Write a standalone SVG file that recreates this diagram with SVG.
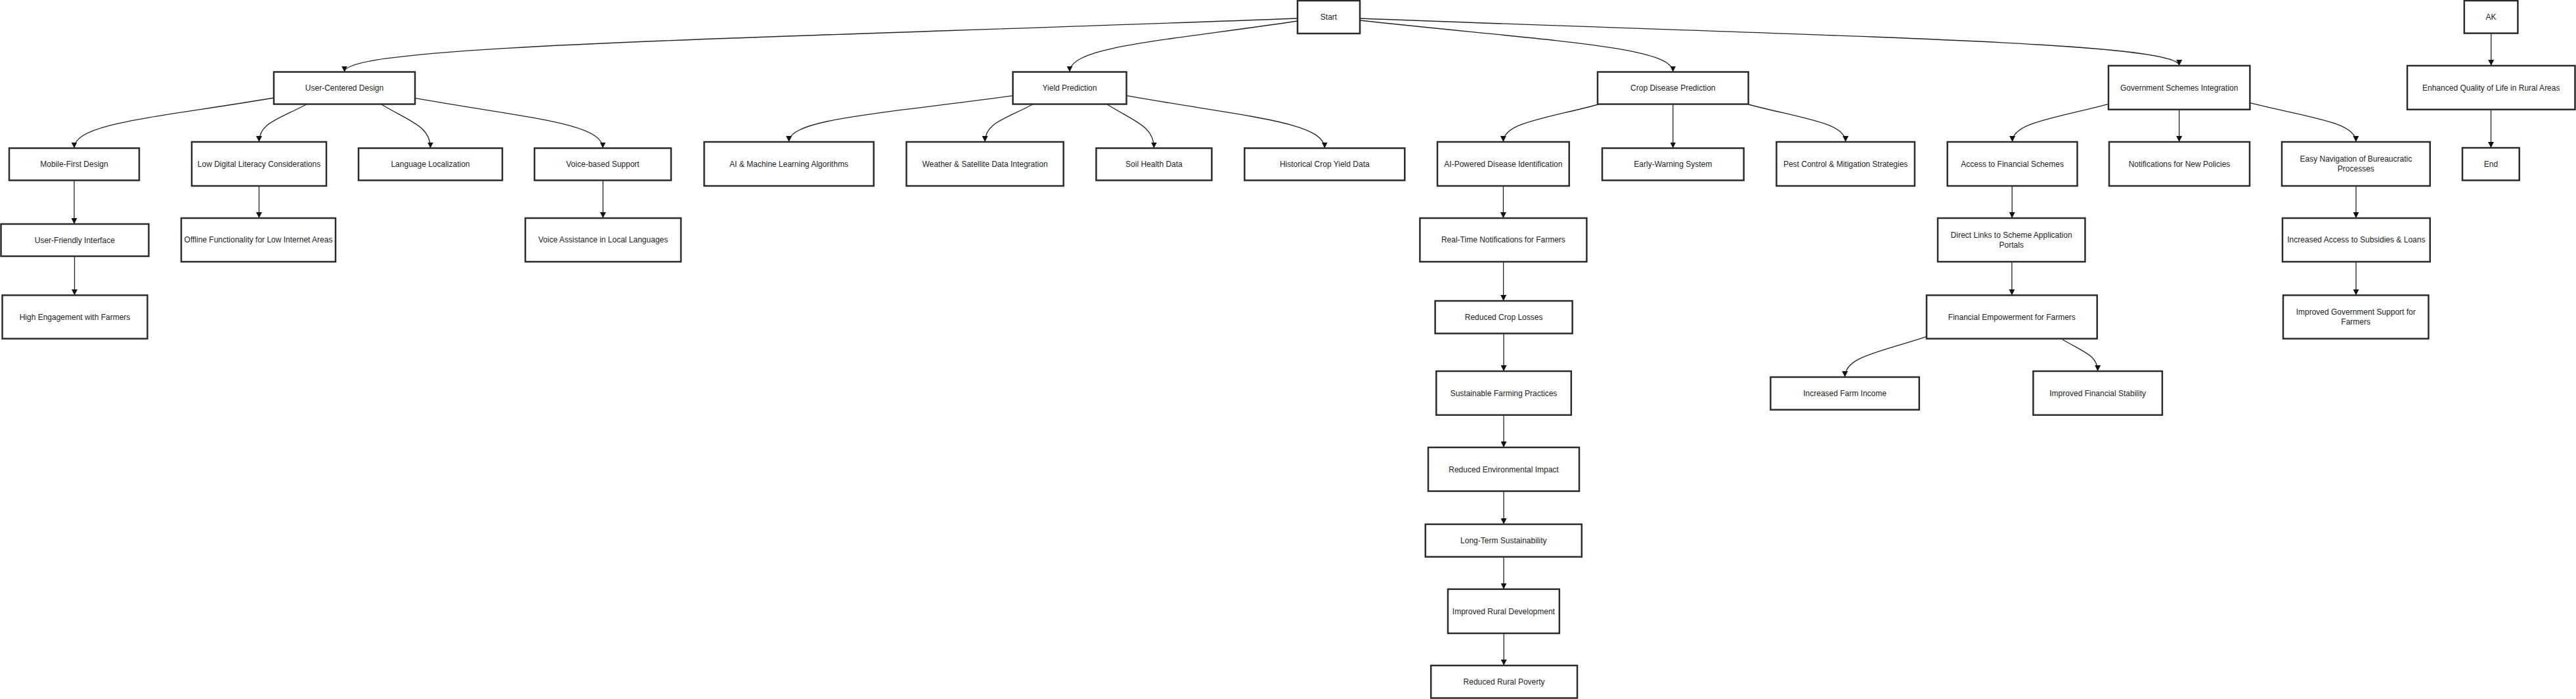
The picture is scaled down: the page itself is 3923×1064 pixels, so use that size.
<svg xmlns="http://www.w3.org/2000/svg" width="3923" height="1064" viewBox="0 0 3923 1064">
<defs>
<style>
.n rect{fill:#fff;stroke:#2b2b2b;stroke-width:2.5}
.n text{font-family:"Liberation Sans",Arial,sans-serif;font-size:12px;fill:#222;text-anchor:middle}
.e path{fill:none;stroke:#222;stroke-width:1.3;marker-end:url(#arr)}
</style>
<marker id="arr" markerUnits="userSpaceOnUse" markerWidth="9" markerHeight="9" viewBox="0 0 10 10" refX="10" refY="5" orient="auto">
<path d="M0,0 L10,5 L0,10 z" fill="#111"/>
</marker>
</defs>
<rect width="3923" height="1064" fill="#fff"/>
<g id="edges" class="e">
<path d="M1976,28 C1105.1,60.6 524.5,68.75 524.5,109.5"/>
<path d="M1976,32 C1767.8,63 1629,70.75 1629,109.5"/>
<path d="M2071,31 C2357.1,62.4 2547.8,70.25 2547.8,109.5"/>
<path d="M2071,28 C2819.6,56.8 3318.7,64 3318.7,100"/>
<path d="M417,149 C234.6,179.6 113,187.25 113,225.5"/>
<path d="M466.5,159 C423.3,181.8 394.5,187.5 394.5,216"/>
<path d="M581,159 C625.7,185.6 655.5,192.25 655.5,225.5"/>
<path d="M632,149.4 C803.6,179.8 918,187.45 918,225.5"/>
<path d="M1542.5,145.7 C1337.9,173.8 1201.5,180.85 1201.5,216"/>
<path d="M1572.6,159 C1529,181.8 1500,187.5 1500,216"/>
<path d="M1686.3,159 C1729,185.6 1757.4,192.25 1757.4,225.5"/>
<path d="M1715.7,145.7 C1896.7,177.6 2017.3,185.6 2017.3,225.5"/>
<path d="M2434,159 C2347.2,181.8 2289.4,187.5 2289.4,216"/>
<path d="M2547.8,159 L2547.8,225.5"/>
<path d="M2662.6,159 C2751.4,181.8 2810.6,187.5 2810.6,216"/>
<path d="M3211,158.4 C3123.2,181.4 3064.6,187.2 3064.6,216"/>
<path d="M3318.7,166.7 L3318.7,216"/>
<path d="M3426.4,156.7 C3523.3,180.4 3587.9,186.35 3587.9,216"/>
<path d="M2934,512.3 C2859.4,537 2809.6,543.15 2809.6,574"/>
<path d="M3141,516.7 C3173.2,536 3194.6,540.85 3194.6,565"/>
<path d="M113,274.5 L113,341"/>
<path d="M113.5,390 L113.5,449.4"/>
<path d="M394.5,283 L394.5,332"/>
<path d="M918.3,274.5 L918.3,332"/>
<path d="M2289.4,283 L2289.4,332"/>
<path d="M2289.6,398.4 L2289.6,458"/>
<path d="M2290,507.6 L2290,565"/>
<path d="M2290,631.7 L2290,681"/>
<path d="M2290,747.6 L2290,798"/>
<path d="M2290,847.6 L2290,896.8"/>
<path d="M2290.2,964 L2290.2,1013"/>
<path d="M3064.2,283 L3064.2,332"/>
<path d="M3063.9,398.4 L3063.9,449.4"/>
<path d="M3588,283 L3588,332"/>
<path d="M3588,398.4 L3588,449.4"/>
<path d="M3793.7,50.6 L3793.7,100"/>
<path d="M3793.5,166.7 L3793.5,225"/>
</g>
<g id="start" class="n"><rect x="1976" y="1" width="95" height="50"/><text x="2023.5" y="30">Start</text></g>
<g id="ucd" class="n"><rect x="417" y="109.5" width="215" height="49"/><text x="524.5" y="138">User-Centered Design</text></g>
<g id="yield" class="n"><rect x="1542.5" y="109.5" width="173" height="49"/><text x="1629" y="138">Yield Prediction</text></g>
<g id="crop" class="n"><rect x="2433" y="109.5" width="229.6" height="49"/><text x="2547.8" y="138">Crop Disease Prediction</text></g>
<g id="gov" class="n"><rect x="3211" y="100" width="215.4" height="66.7"/><text x="3318.7" y="137.5">Government Schemes Integration</text></g>
<g id="ak" class="n"><rect x="3752.8" y="1" width="81.6" height="49.6"/><text x="3793.6" y="30">AK</text></g>
<g id="enhanced" class="n"><rect x="3666" y="100" width="255.5" height="66.7"/><text x="3793.75" y="137.5">Enhanced Quality of Life in Rural Areas</text></g>
<g id="end" class="n"><rect x="3750" y="225" width="86.7" height="49.5"/><text x="3793.4" y="254">End</text></g>
<g id="mobile" class="n"><rect x="14" y="225.5" width="198" height="49"/><text x="113" y="254">Mobile-First Design</text></g>
<g id="lowdig" class="n"><rect x="292" y="216" width="205" height="67"/><text x="394.5" y="253.5">Low Digital Literacy Considerations</text></g>
<g id="lang" class="n"><rect x="546" y="225.5" width="219" height="49"/><text x="655.5" y="254">Language Localization</text></g>
<g id="voice" class="n"><rect x="814" y="225.5" width="208" height="49"/><text x="918" y="254">Voice-based Support</text></g>
<g id="aiml" class="n"><rect x="1072.4" y="216" width="258.2" height="67"/><text x="1201.5" y="253.5">AI &amp; Machine Learning Algorithms</text></g>
<g id="weather" class="n"><rect x="1380.4" y="216" width="239.2" height="67"/><text x="1500" y="253.5">Weather &amp; Satellite Data Integration</text></g>
<g id="soil" class="n"><rect x="1669.4" y="225.5" width="176" height="49"/><text x="1757.4" y="254">Soil Health Data</text></g>
<g id="hist" class="n"><rect x="1895.3" y="225.5" width="244" height="49"/><text x="2017.3" y="254">Historical Crop Yield Data</text></g>
<g id="aipow" class="n"><rect x="2189" y="216" width="200.7" height="67"/><text x="2289.35" y="253.5">AI-Powered Disease Identification</text></g>
<g id="early" class="n"><rect x="2440" y="225.5" width="215.6" height="49"/><text x="2547.8" y="254">Early-Warning System</text></g>
<g id="pest" class="n"><rect x="2705.4" y="216" width="210.5" height="67"/><text x="2810.65" y="253.5">Pest Control &amp; Mitigation Strategies</text></g>
<g id="access" class="n"><rect x="2965.7" y="216" width="197.8" height="67"/><text x="3064.6" y="253.5">Access to Financial Schemes</text></g>
<g id="notif" class="n"><rect x="3212" y="216" width="214" height="67"/><text x="3319" y="253.5">Notifications for New Policies</text></g>
<g id="easynav" class="n"><rect x="3475" y="216" width="225.7" height="67"/><text x="3587.85" y="246">Easy Navigation of Bureaucratic</text><text x="3587.85" y="261">Processes</text></g>
<g id="userfriendly" class="n"><rect x="1.5" y="341" width="225" height="49"/><text x="113.8" y="369.5">User-Friendly Interface</text></g>
<g id="offline" class="n"><rect x="276" y="332" width="235" height="66.4"/><text x="393.5" y="369.2">Offline Functionality for Low Internet Areas</text></g>
<g id="voiceassist" class="n"><rect x="800" y="332" width="237" height="66.4"/><text x="918.5" y="369.2">Voice Assistance in Local Languages</text></g>
<g id="realtime" class="n"><rect x="2162.4" y="332" width="254" height="66.4"/><text x="2289.4" y="369.2">Real-Time Notifications for Farmers</text></g>
<g id="directlinks" class="n"><rect x="2951" y="332" width="224.4" height="66.4"/><text x="3063.2" y="362">Direct Links to Scheme Application</text><text x="3063.2" y="376.5">Portals</text></g>
<g id="incaccess" class="n"><rect x="3476" y="332" width="224.7" height="66.4"/><text x="3588.35" y="369.2">Increased Access to Subsidies &amp; Loans</text></g>
<g id="higheng" class="n"><rect x="3.5" y="449.4" width="221" height="66.1"/><text x="114" y="486.5">High Engagement with Farmers</text></g>
<g id="reducedcrop" class="n"><rect x="2185.6" y="458" width="209" height="49.6"/><text x="2290.1" y="487">Reduced Crop Losses</text></g>
<g id="finemp" class="n"><rect x="2934" y="449.4" width="259.7" height="66.1"/><text x="3063.85" y="486.5">Financial Empowerment for Farmers</text></g>
<g id="impgov" class="n"><rect x="3477" y="449.4" width="221.4" height="66.1"/><text x="3587.7" y="479">Improved Government Support for</text><text x="3587.7" y="493.5">Farmers</text></g>
<g id="sustainable" class="n"><rect x="2187.3" y="565" width="205.5" height="66.7"/><text x="2290" y="602.5">Sustainable Farming Practices</text></g>
<g id="farmincome" class="n"><rect x="2696.4" y="574" width="226.4" height="49.7"/><text x="2809.6" y="603">Increased Farm Income</text></g>
<g id="finstab" class="n"><rect x="3096.4" y="565" width="196.5" height="66.7"/><text x="3194.65" y="602.5">Improved Financial Stability</text></g>
<g id="reducedenv" class="n"><rect x="2175" y="681" width="230" height="66.6"/><text x="2290" y="718.5">Reduced Environmental Impact</text></g>
<g id="longterm" class="n"><rect x="2170.8" y="798" width="238" height="49.6"/><text x="2289.8" y="827">Long-Term Sustainability</text></g>
<g id="ruraldev" class="n"><rect x="2205" y="896.8" width="169.8" height="67.2"/><text x="2289.9" y="934.5">Improved Rural Development</text></g>
<g id="poverty" class="n"><rect x="2179.2" y="1013" width="222.8" height="49.5"/><text x="2290.6" y="1042">Reduced Rural Poverty</text></g>
</svg>
